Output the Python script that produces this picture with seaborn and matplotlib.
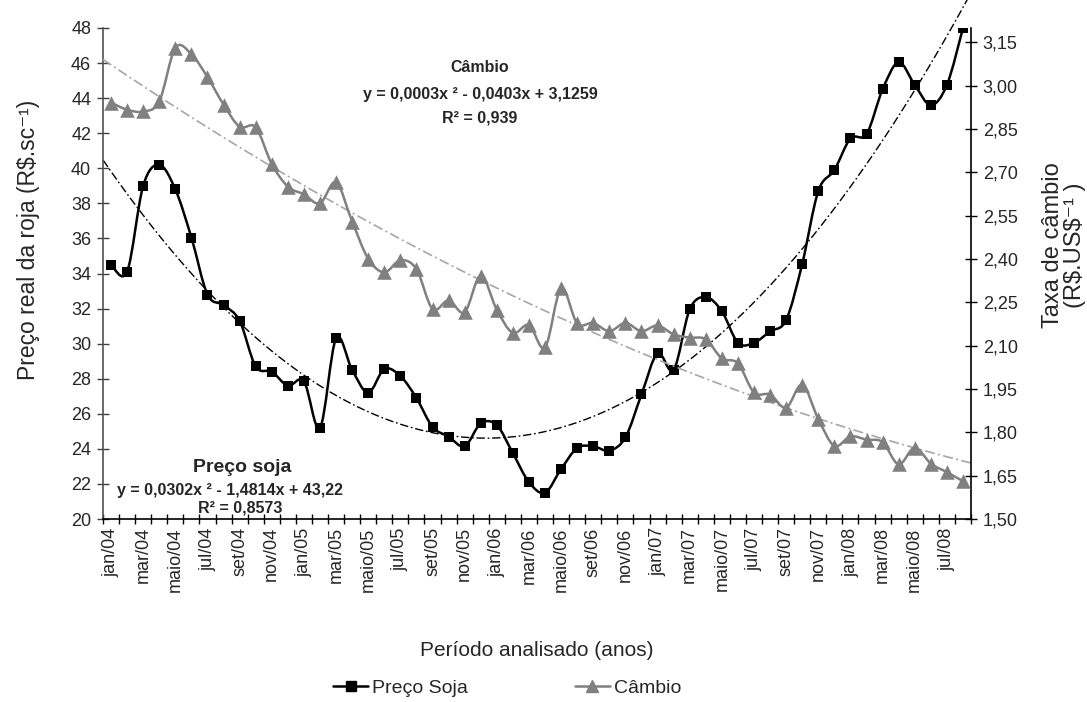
import numpy as np
import matplotlib
matplotlib.use("Agg")
import matplotlib.pyplot as plt
from matplotlib.path import Path
from matplotlib.patches import PathPatch
from matplotlib.lines import Line2D
import seaborn as sns

# Monthly series, jan/04 onward
preco_soja = [34.5, 34.1, 39.0, 40.2, 38.8, 36.05, 32.8, 32.2, 31.3, 28.7,
              28.4, 27.6, 27.85, 25.2, 30.3, 28.5, 27.2, 28.55, 28.15, 26.9,
              25.25, 24.7, 24.15, 25.45, 25.35, 23.75, 22.1, 21.5, 22.85, 24.05,
              24.15, 23.9, 24.65, 27.1, 29.45, 28.5, 31.95, 32.65, 31.85, 30.05,
              30.05, 30.7, 31.35, 34.55, 38.7, 39.9, 41.7, 41.95, 44.5, 46.05,
              44.75, 43.6, 44.75, 48.0]
cambio = [2.942, 2.917, 2.911, 2.946, 3.131, 3.109, 3.030, 2.935, 2.858, 2.856,
          2.729, 2.651, 2.624, 2.593, 2.666, 2.530, 2.401, 2.354, 2.396, 2.365,
          2.227, 2.257, 2.216, 2.343, 2.224, 2.144, 2.172, 2.094, 2.299, 2.177,
          2.179, 2.150, 2.179, 2.150, 2.170, 2.139, 2.128, 2.122, 2.056, 2.039,
          1.938, 1.931, 1.885, 1.965, 1.846, 1.753, 1.786, 1.775, 1.766, 1.689,
          1.747, 1.692, 1.662, 1.631]
rotulos = ["jan/04", "mar/04", "maio/04", "jul/04", "set/04", "nov/04",
           "jan/05", "mar/05", "maio/05", "jul/05", "set/05", "nov/05",
           "jan/06", "mar/06", "maio/06", "set/06", "nov/06",
           "jan/07", "mar/07", "maio/07", "jul/07", "set/07", "nov/07",
           "jan/08", "mar/08", "maio/08", "jul/08"]
ticks_esq = list(range(20, 49, 2))
ticks_dir = [1.50, 1.65, 1.80, 1.95, 2.10, 2.25, 2.40, 2.55, 2.70, 2.85, 3.00, 3.15]

sns.set_theme(style="white")
plt.rcParams["font.family"] = ["Liberation Sans", "DejaVu Sans"]

W, H = 1087, 702
fig = plt.figure(figsize=(W / 100, H / 100), dpi=100)
x0, x1, ytop, ybot = 103, 971, 28, 519
ax = fig.add_axes([x0 / W, 1 - ybot / H, (x1 - x0) / W, (ybot - ytop) / H])
ax2 = ax.twinx()

n = len(preco_soja)
idx = np.arange(n)
ax.set_xlim(-0.5, n - 0.5)
ax.set_ylim(20, 48)
ax2.set_ylim(1.5, 3.2)


def smooth_path(xs, ys):
    """Smoothed polyline through the points (cubic Bezier, Catmull-Rom handles)."""
    pts = np.column_stack([xs, ys]).astype(float)
    ext = np.vstack([pts[0], pts, pts[-1]])
    verts, codes = [pts[0]], [Path.MOVETO]
    for i in range(len(pts) - 1):
        p0, p1, p2, p3 = ext[i], ext[i + 1], ext[i + 2], ext[i + 3]
        verts += [p1 + (p2 - p0) / 6, p2 - (p3 - p1) / 6, p2]
        codes += [Path.CURVE4] * 3
    return Path(verts, codes)


CINZA = "#808080"

# quadratic trend lines
sns.regplot(x=idx, y=np.array(preco_soja), order=2, ci=None, scatter=False,
            truncate=False, ax=ax,
            line_kws=dict(color="black", lw=1.0, linestyle=(0, (6, 2, 1.2, 2)),
                          clip_on=False, zorder=2))
sns.regplot(x=idx, y=np.array(cambio), order=2, ci=None, scatter=False,
            truncate=False, ax=ax2,
            line_kws=dict(color="#a6a6a6", lw=1.2, linestyle=(0, (6, 2, 1.2, 2)),
                          clip_on=False, zorder=2))

# smoothed series lines
ax.add_patch(PathPatch(smooth_path(idx, preco_soja), facecolor="none",
                       edgecolor="black", lw=1.8, zorder=3))
ax2.add_patch(PathPatch(smooth_path(idx, cambio), facecolor="none",
                        edgecolor=CINZA, lw=1.8, zorder=3))

# markers
sns.scatterplot(x=idx, y=preco_soja, marker="s", s=62, color="black",
                linewidth=0, ax=ax, zorder=4)
sns.scatterplot(x=idx, y=cambio, marker="^", s=110, color=CINZA,
                linewidth=0, ax=ax2, zorder=4)

ax.set_xlim(-0.5, n - 0.5)
ax.set_ylim(20, 48)
ax2.set_ylim(1.5, 3.2)
ax.set_xlabel("")
ax.set_ylabel("")
ax2.set_xlabel("")
ax2.set_ylabel("")

# axes, ticks
ax.set_xticks(np.arange(0, 2 * len(rotulos), 2))
ax.set_xticklabels(rotulos, rotation=90, fontsize=13)
ax.set_xticks(np.arange(-0.5, n, 1), minor=True)
ax.tick_params(axis="x", which="major", length=0, pad=6)
ax.tick_params(axis="x", which="minor", direction="inout", length=7,
               width=1, color="black", bottom=True)
ax.set_yticks(ticks_esq)
ax.set_yticklabels([str(t) for t in ticks_esq], fontsize=13)
ax.tick_params(axis="y", direction="inout", length=9, width=1,
               color="#404040", left=True, pad=4)
ax2.set_yticks(ticks_dir)
ax2.set_yticklabels([f"{t:.2f}".replace(".", ",") for t in ticks_dir], fontsize=13)
ax2.tick_params(axis="y", direction="inout", length=9, width=1,
                color="black", right=True, pad=4)

for a in (ax, ax2):
    a.spines["top"].set_visible(False)
ax.spines["right"].set_visible(False)
ax2.spines["left"].set_visible(False)
ax2.spines["bottom"].set_visible(False)
ax.spines["left"].set_color("#505050")
ax.spines["bottom"].set_color("black")
ax2.spines["right"].set_color("black")
for s in ("left", "bottom"):
    ax.spines[s].set_linewidth(1.2)
ax2.spines["right"].set_linewidth(1.2)

# axis titles
fig.text(29 / W, 1 - 240 / H, "Preço real da roja (R\\$.sc⁻¹)",
         rotation=90, ha="center", va="center", fontsize=16.5)
fig.text(1064 / W, 1 - 245 / H, "Taxa de câmbio\n(R\\$.US\\$⁻¹ )",
         rotation=90, ha="center", va="center", fontsize=17,
         multialignment="center", linespacing=1.05)
fig.text(537 / W, 1 - 650 / H, "Período analisado (anos)",
         ha="center", va="center", fontsize=15)

# trend equations
fig.text(480 / W, 1 - 68 / H, "Câmbio", ha="center", va="center",
         fontsize=11.5, fontweight="bold")
fig.text(480 / W, 1 - 95 / H, "y = 0,0003x ² - 0,0403x + 3,1259",
         ha="center", va="center", fontsize=11.5, fontweight="bold")
fig.text(480 / W, 1 - 118 / H, "R² = 0,939", ha="center", va="center",
         fontsize=11.5, fontweight="bold")
fig.text(242 / W, 1 - 467 / H, "Preço soja", ha="center", va="center",
         fontsize=14, fontweight="bold")
fig.text(230 / W, 1 - 490 / H, "y = 0,0302x ² - 1,4814x + 43,22",
         ha="center", va="center", fontsize=11.5, fontweight="bold")
fig.text(240 / W, 1 - 508 / H, "R² = 0,8573", ha="center", va="center",
         fontsize=11.5, fontweight="bold")

# legend
handles = [Line2D([], [], color="black", lw=1.8, marker="s", markersize=7),
           Line2D([], [], color=CINZA, lw=1.8, marker="^", markersize=9)]
fig.legend(handles, ["Preço Soja", "Câmbio"], loc="center",
           bbox_to_anchor=(507 / W, 1 - 688 / H), ncol=2, frameon=False,
           fontsize=14, handlelength=1.8, handletextpad=0.2, columnspacing=5.5)

fig.savefig("out.png", dpi=100)
